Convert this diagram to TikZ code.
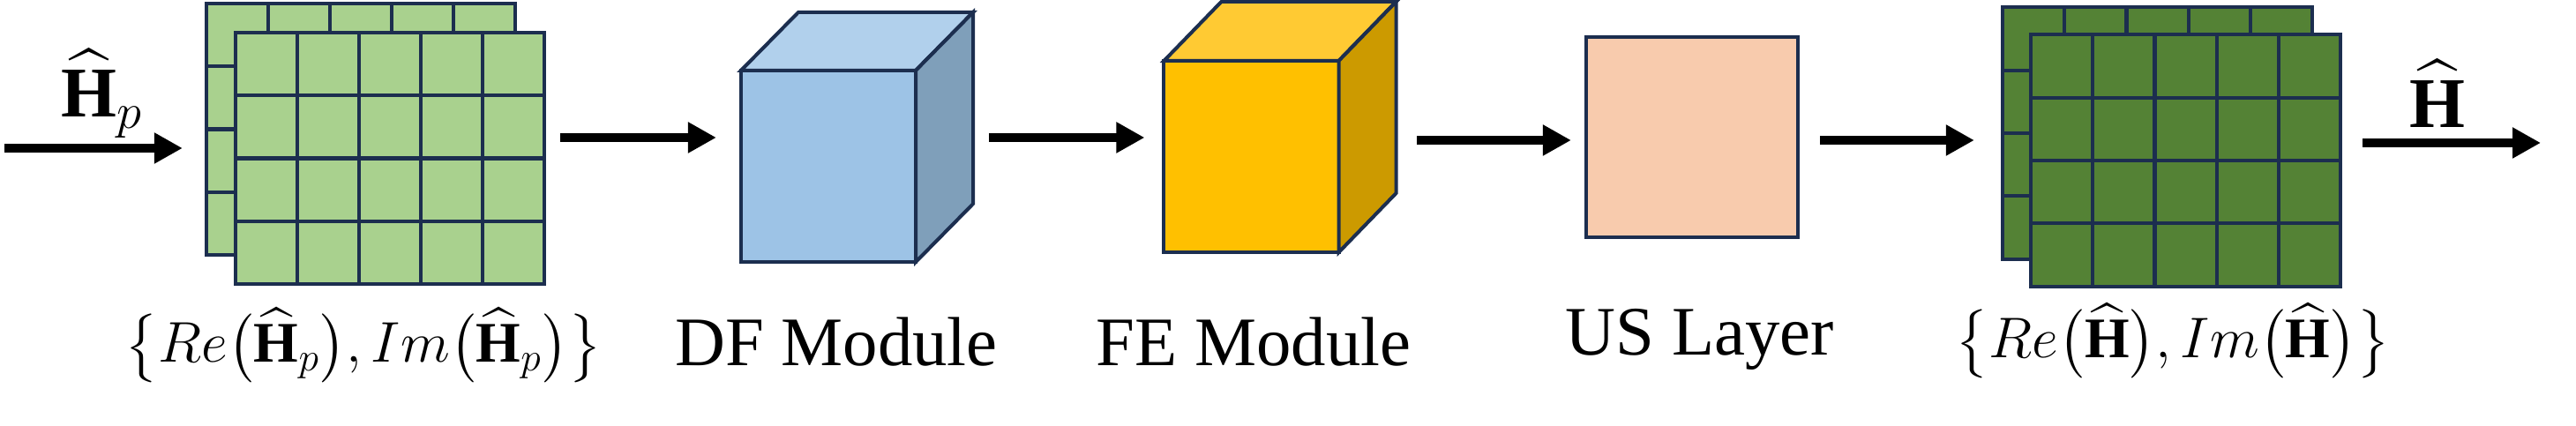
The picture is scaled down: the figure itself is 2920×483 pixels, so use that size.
\RequirePackage{fix-cm}
\documentclass[tikz,border=0pt]{standalone}
\usepackage{fontspec}
\setmainfont{Liberation Serif}
\usepackage{amssymb,amsmath}
\usetikzlibrary{arrows.meta, calc, positioning}

\definecolor{edge}{HTML}{1C2E4F}
\definecolor{lightgreen}{HTML}{A9D18E}
\definecolor{darkgreen}{HTML}{548235}
\definecolor{dffront}{HTML}{9DC3E6}
\definecolor{dftop}{HTML}{B1D0EC}
\definecolor{dfside}{HTML}{7F9FBA}
\definecolor{fefront}{HTML}{FFC000}
\definecolor{fetop}{HTML}{FFCA33}
\definecolor{feside}{HTML}{CC9A00}
\definecolor{usfill}{HTML}{F8CBAD}

\tikzset{
	facebox/.style={draw=edge, line width=1.15pt, fill=#1, inner sep=0pt, outer sep=0pt},
	gridlayer/.style={facebox=#1, minimum width=3.5cm, minimum height=2.85cm,
		path picture={
			\foreach \k in {1,...,4}
			\draw[edge, line width=1.15pt]
			($(path picture bounding box.north west)!\k/5!(path picture bounding box.north east)$) --
			($(path picture bounding box.south west)!\k/5!(path picture bounding box.south east)$);
			\foreach \k in {1,2,3}
			\draw[edge, line width=1.15pt]
			($(path picture bounding box.north west)!\k/4!(path picture bounding box.south west)$) --
			($(path picture bounding box.north east)!\k/4!(path picture bounding box.south east)$);
	}},
	arr/.style={-{Triangle[length=9.1pt, width=9.4pt]}, line width=3.1pt},
	txt/.style={font=\fontsize{22.4}{26}\selectfont, inner sep=0pt, anchor=base},
	mathlbl/.style={font=\fontsize{18.5}{22}\selectfont, inner sep=0pt, anchor=base}
}

\begin{document}
\begin{tikzpicture}[x=0.01cm, y=0.01cm, line join=miter]
\useasboundingbox (0,0) rectangle (2920,483);

%========================
% Input: pilot channel (two layers)
%========================
\coordinate (src) at (5,315);
\node[gridlayer=lightgreen] (g1b) at (409,336.5) {};
\node[gridlayer=lightgreen] (g1f) at ($(g1b)+(33,-33)$) {};
\node[mathlbl, font=\fontsize{23}{26}\selectfont] (hplbl) at (116,350) {$\widehat{\mathbf{H}}_p$};
\node[mathlbl] (g1lbl) at (412,72)
	{$\bigl\{Re\bigl(\widehat{\mathbf{H}}_p\bigr),Im\bigl(\widehat{\mathbf{H}}_p\bigr)\bigr\}$};

%========================
% DF module (cube)
%========================
\node[facebox=dffront, minimum width=1.98cm, minimum height=2.17cm] (df) at (939,294.5) {};
\draw[facebox=dftop] (df.north west) -- ++(65,66) -- ($(df.north east)+(65,66)$) -- (df.north east) -- cycle;
\draw[facebox=dfside] (df.north east) -- ++(65,66) -- ($(df.south east)+(65,66)$) -- (df.south east) -- cycle;
\node[txt] (dflbl) at (948,68) {DF Module};

%========================
% FE module (cube)
%========================
\node[facebox=fefront, minimum width=1.98cm, minimum height=2.17cm] (fe) at (1418.5,305.5) {};
\draw[facebox=fetop] (fe.north west) -- ++(65,67) -- ($(fe.north east)+(65,67)$) -- (fe.north east) -- cycle;
\draw[facebox=feside] (fe.north east) -- ++(65,67) -- ($(fe.south east)+(65,67)$) -- (fe.south east) -- cycle;
\node[txt] (felbl) at (1421,68) {FE Module};

%========================
% US layer
%========================
\node[facebox=usfill, minimum width=2.4cm, minimum height=2.27cm] (us) at (1918,327.5) {};
\node[txt] (uslbl) at (1927,80) {US Layer};

%========================
% Output: estimated channel (two layers)
%========================
\coordinate (dst) at (2880,321);
\node[gridlayer=darkgreen] (g2b) at (2445.5,332) {};
\node[gridlayer=darkgreen] (g2f) at ($(g2b)+(32,-31)$) {};
\node[mathlbl, font=\fontsize{23}{26}\selectfont] (hlbl) at (2763,338) {$\widehat{\mathbf{H}}$};
\node[mathlbl] (g2lbl) at (2463,77)
	{$\bigl\{Re\bigl(\widehat{\mathbf{H}}\bigr),Im\bigl(\widehat{\mathbf{H}}\bigr)\bigr\}$};

% arrows
\coordinate (lvl) at (0,327);
\coordinate (lvlb) at (0,324);
\draw[arr, shorten >=0.27cm] (src) -- (src -| g1b.west);
\draw[arr, shorten <=0.18cm, shorten >=0.28cm] (g1f.east |- lvl) -- (df.west |- lvl);
\draw[arr, shorten <=0.83cm, shorten >=0.22cm] (df.east |- lvl) -- (fe.west |- lvl);
\draw[arr, shorten <=0.885cm, shorten >=0.17cm] (fe.east |- lvlb) -- (us.west |- lvlb);
\draw[arr, shorten <=0.25cm, shorten >=0.325cm] (us.east |- lvlb) -- (g2b.west |- lvlb);
\draw[arr, shorten <=0.255cm] (g2f.east |- dst) -- (dst);
\end{tikzpicture}
\end{document}
